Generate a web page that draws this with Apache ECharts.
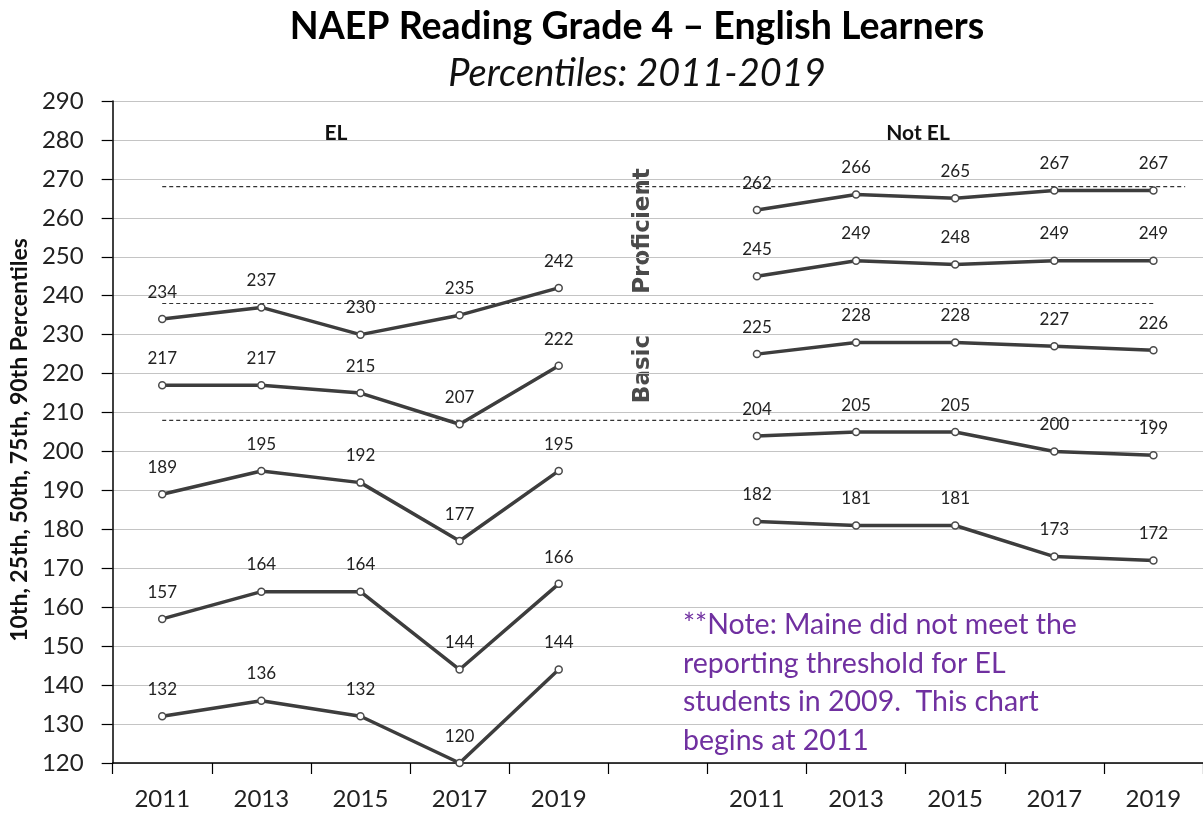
<!DOCTYPE html>
<html>
<head>
<meta charset="utf-8">
<script src="https://cdn.jsdelivr.net/npm/echarts@6/dist/echarts.min.js"></script>
<style>
html,body{margin:0;padding:0;background:#fff;}
#chart{width:1203px;height:814px;}
</style>
</head>
<body>
<div id="chart"></div>
<script>
// ---- data ----
var years = ['2011', '2013', '2015', '2017', '2019'];
var categories = ['2011', '2013', '2015', '2017', '2019', '', '2011', '2013', '2015', '2017', '2019'];
var percentileNames = ['90th', '75th', '50th', '25th', '10th'];

var el90 = [234, 237, 230, 235, 242];
var el75 = [217, 217, 215, 207, 222];
var el50 = [189, 195, 192, 177, 195];
var el25 = [157, 164, 164, 144, 166];
var el10 = [132, 136, 132, 120, 144];

var notEl90 = [262, 266, 265, 267, 267];
var notEl75 = [245, 249, 248, 249, 249];
var notEl50 = [225, 228, 228, 227, 226];
var notEl25 = [204, 205, 205, 200, 199];
var notEl10 = [182, 181, 181, 173, 172];

// achievement-level cut scores (dashed reference lines): [value, startX, endX] on a 0..11 scale
var cutProficientHigh = 268;
var cutProficient = 238;
var cutBasic = 208;
var cutLines = [
  [cutProficientHigh, 0.5, 10.82],
  [cutProficient, 0.5, 10.5],
  [cutBasic, 0.5, 10.5]
];

var yTicks = {min: 120, max: 290, interval: 10};

// ---- build ----
var FONT = 'Lato, "Open Sans", sans-serif';
var elSets = [el90, el75, el50, el25, el10];
var notElSets = [notEl90, notEl75, notEl50, notEl25, notEl10];

function padEL(arr) { return arr.concat([null, null, null, null, null, null]); }
function padNotEL(arr) { return [null, null, null, null, null, null].concat(arr); }

var lineSeriesBase = {
  type: 'line',
  xAxisIndex: 0,
  symbol: 'circle',
  symbolSize: 7,
  connectNulls: false,
  lineStyle: {color: '#3d3d3d', width: 3.5},
  itemStyle: {color: '#ffffff', borderColor: '#4a4a4a', borderWidth: 1.5},
  label: {show: true, position: 'top', distance: 14, color: '#222', fontFamily: FONT, fontSize: 17},
  emphasis: {disabled: true},
  z: 3
};

var series = [];
elSets.forEach(function (arr, i) {
  series.push(Object.assign({}, lineSeriesBase, {name: 'EL ' + percentileNames[i], data: padEL(arr)}));
});
notElSets.forEach(function (arr, i) {
  series.push(Object.assign({}, lineSeriesBase, {name: 'Not EL ' + percentileNames[i], data: padNotEL(arr)}));
});
cutLines.forEach(function (c) {
  series.push({
    type: 'line',
    xAxisIndex: 1,
    data: [[c[1], c[0]], [c[2], c[0]]],
    symbol: 'none',
    lineStyle: {color: '#333', width: 1.2, type: [4, 3]},
    silent: true,
    z: 2
  });
});

var chart = echarts.init(document.getElementById('chart'), null, {renderer: 'canvas'});
chart.setOption({
  animation: false,
  backgroundColor: '#ffffff',
  grid: {left: 112, right: 0, top: 101, bottom: 51, containLabel: false},
  xAxis: [{
    type: 'category',
    data: categories,
    boundaryGap: true,
    axisLine: {show: true, lineStyle: {color: '#000', width: 1.5}},
    axisTick: {show: true, length: 11, alignWithLabel: false, interval: 0, lineStyle: {color: '#000', width: 1.2}},
    axisLabel: {interval: 0, color: '#222', fontFamily: FONT, fontSize: 24, margin: 24},
    splitLine: {show: false}
  }, {
    type: 'value',
    min: 0,
    max: 11,
    show: false
  }],
  yAxis: {
    type: 'value',
    min: yTicks.min,
    max: yTicks.max,
    interval: yTicks.interval,
    name: '10th, 25th, 50th, 75th, 90th Percentiles',
    nameLocation: 'middle',
    nameGap: 67,
    nameRotate: 90,
    nameTextStyle: {color: '#111', fontFamily: FONT, fontSize: 23, fontWeight: 'bold', padding: [0, 16, 0, 0]},
    axisLine: {show: true, lineStyle: {color: '#000', width: 1.5}},
    axisTick: {show: true, length: 11, lineStyle: {color: '#000', width: 1.2}},
    axisLabel: {color: '#222', fontFamily: FONT, fontSize: 24, margin: 29},
    splitLine: {show: true, lineStyle: {color: '#c4c4c4', width: 1.2}}
  },
  graphic: [
    {type: 'text', x: 637, y: 27, style: {text: 'NAEP Reading Grade 4 \u2013 English Learners', fill: '#000', font: 'bold 37.5px ' + FONT, textAlign: 'center', textVerticalAlign: 'middle'}},
    {type: 'text', x: 637, y: 74, style: {text: 'Percentiles: 2011-2019', fill: '#111', font: 'italic 38px ' + FONT, textAlign: 'center', textVerticalAlign: 'middle'}},
    {type: 'text', x: 336, y: 133, style: {text: 'EL', fill: '#111', font: 'bold 21px ' + FONT, textAlign: 'center', textVerticalAlign: 'middle'}},
    {type: 'text', x: 918, y: 133, style: {text: 'Not EL', fill: '#111', font: 'bold 21px ' + FONT, textAlign: 'center', textVerticalAlign: 'middle'}},
    {type: 'text', x: 643, y: 231, rotation: Math.PI / 2, style: {text: 'Proficient', fill: '#4a4a4a', font: 'bold 23px "DejaVu Sans", sans-serif', textAlign: 'center', textVerticalAlign: 'middle'}},
    {type: 'text', x: 643, y: 369, rotation: Math.PI / 2, style: {text: 'Basic', fill: '#4a4a4a', font: 'bold 23px "DejaVu Sans", sans-serif', textAlign: 'center', textVerticalAlign: 'middle'}},
    {type: 'text', x: 683, y: 606, style: {text: '**Note: Maine did not meet the\nreporting threshold for EL\nstudents in 2009.  This chart\nbegins at 2011', fill: '#7030a0', font: '28.5px ' + FONT, lineHeight: 38.5, textAlign: 'left', textVerticalAlign: 'top'}}
  ],
  series: series
});
</script>
</body>
</html>
